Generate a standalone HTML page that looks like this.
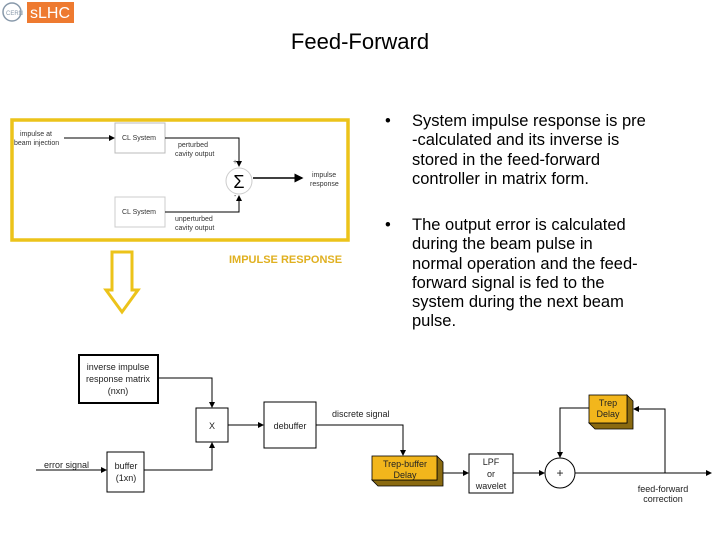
<!DOCTYPE html>
<html><head><meta charset="utf-8"><style>
body{margin:0;width:720px;height:540px;background:#fff;overflow:hidden;font-family:"Liberation Sans",sans-serif;}
svg{position:absolute;left:0;top:0}
.b{position:absolute;left:385px;font-size:16.5px;line-height:19.3px;color:#000;width:330px;white-space:nowrap}
.b span{position:absolute;left:0}
.b div{margin-left:27px}
</style></head><body>
<svg width="720" height="540" viewBox="0 0 720 540" font-family="Liberation Sans, sans-serif">
<defs><marker id="a" markerWidth="6" markerHeight="6" refX="5" refY="3" orient="auto"><path d="M0,0L6,3L0,6z" fill="#000"/></marker></defs>
<circle cx="12" cy="12" r="9" fill="none" stroke="#8899aa" stroke-width="1.5"/>
<text x="6" y="15" font-size="6" fill="#8899aa">CERN</text>
<rect x="27" y="2" width="47" height="21" fill="#ee7a30"/>
<text x="50" y="18" font-size="16" fill="#fff" text-anchor="middle">sLHC</text>
<text x="360" y="49" font-size="22" text-anchor="middle">Feed-Forward</text>
<rect x="12" y="120" width="336" height="120" fill="#fff" stroke="#ecc31a" stroke-width="3.5"/>
<g font-size="7" fill="#333">
<text x="20" y="136">impulse at</text><text x="14" y="145">beam injection</text>
<rect x="115" y="123" width="50" height="30" fill="#fff" stroke="#bbb"/>
<text x="122" y="140">CL System</text>
<rect x="115" y="197" width="50" height="30" fill="#fff" stroke="#ccc"/>
<text x="122" y="214">CL System</text>
<text x="178" y="147">perturbed</text><text x="175" y="156">cavity output</text>
<text x="175" y="221">unperturbed</text><text x="175" y="230">cavity output</text>
<text x="312" y="177">impulse</text><text x="310" y="186">response</text>
<text x="233" y="164">+</text><text x="234" y="198">-</text>
</g>
<g stroke="#000" fill="none" stroke-width="1">
<line x1="64" y1="138" x2="114" y2="138" marker-end="url(#a)"/>
<polyline points="165,138 239,138 239,166" marker-end="url(#a)"/>
<polyline points="165,212 239,212 239,196" marker-end="url(#a)"/>
<line x1="253" y1="178" x2="302" y2="178" stroke-width="1.5" marker-end="url(#a)"/>
</g>
<circle cx="239" cy="181" r="13" fill="#fff" stroke="#ccc"/>
<text x="239" y="188" font-size="18" text-anchor="middle">Σ</text>
<text x="229" y="263" font-size="11" font-weight="bold" fill="#e0b020">IMPULSE RESPONSE</text>
<path d="M112,252H132V290H138L122,312L106,290H112Z" fill="none" stroke="#ecc31a" stroke-width="3"/>
<g stroke="#000" fill="none" stroke-width="1">
<line x1="36" y1="470" x2="106" y2="470" marker-end="url(#a)"/>
<polyline points="144,470 212,470 212,443" marker-end="url(#a)"/>
<polyline points="158,378 212,378 212,407" marker-end="url(#a)"/>
<line x1="228" y1="425" x2="263" y2="425" marker-end="url(#a)"/>
<polyline points="316,425 403,425 403,455" marker-end="url(#a)"/>
<line x1="443" y1="473" x2="468" y2="473" marker-end="url(#a)"/>
<line x1="513" y1="473" x2="544" y2="473" marker-end="url(#a)"/>
<line x1="575" y1="473" x2="711" y2="473" marker-end="url(#a)"/>
<polyline points="665,473 665,409 634,409" marker-end="url(#a)"/>
<polyline points="589,408 560,408 560,457" marker-end="url(#a)"/>
</g>
<rect x="79" y="355" width="79" height="48" fill="#fff" stroke="#000" stroke-width="2"/>
<rect x="196" y="408" width="32" height="34" fill="#fff" stroke="#000"/>
<rect x="264" y="402" width="52" height="46" fill="#fff" stroke="#000"/>
<rect x="107" y="452" width="37" height="40" fill="#fff" stroke="#000"/>
<rect x="469" y="454" width="44" height="39" fill="#fff" stroke="#000"/>
<circle cx="560" cy="473" r="15" fill="#fff" stroke="#000"/>
<path d="M437,456L443,462V486H378L372,480H437Z" fill="#8a6a10" stroke="#000" stroke-width="0.8"/>
<rect x="372" y="456" width="65" height="24" fill="#f2b61c" stroke="#000" stroke-width="0.8"/>
<path d="M627,395L633,401V429H595L589,423H627Z" fill="#8a6a10" stroke="#000" stroke-width="0.8"/>
<rect x="589" y="395" width="38" height="28" fill="#f2b61c" stroke="#000" stroke-width="0.8"/>
<g font-size="9" fill="#222" text-anchor="middle">
<text x="118" y="370">inverse impulse</text><text x="118" y="382">response matrix</text><text x="118" y="394">(nxn)</text>
<text x="212" y="429">X</text>
<text x="290" y="429">debuffer</text>
<text x="126" y="469">buffer</text><text x="126" y="481">(1xn)</text>
<text x="491" y="465">LPF</text><text x="491" y="477">or</text><text x="491" y="489">wavelet</text>
<text x="560" y="477" font-size="12">+</text>
<text x="405" y="467">Trep-buffer</text><text x="405" y="478">Delay</text>
<text x="608" y="406">Trep</text><text x="608" y="417">Delay</text>
<text x="663" y="492">feed-forward</text><text x="663" y="502">correction</text>
</g>
<g font-size="9" fill="#222">
<text x="44" y="468">error signal</text>
<text x="332" y="417">discrete signal</text>
</g>
</svg>
<div class="b" style="top:112px"><span>•</span><div>System impulse response is pre<br>-calculated and its inverse is<br>stored in the feed-forward<br>controller in matrix form.</div></div>
<div class="b" style="top:216px"><span>•</span><div>The output error is calculated<br>during the beam pulse in<br>normal operation and the feed-<br>forward signal is fed to the<br>system during the next beam<br>pulse.</div></div>
</body></html>
